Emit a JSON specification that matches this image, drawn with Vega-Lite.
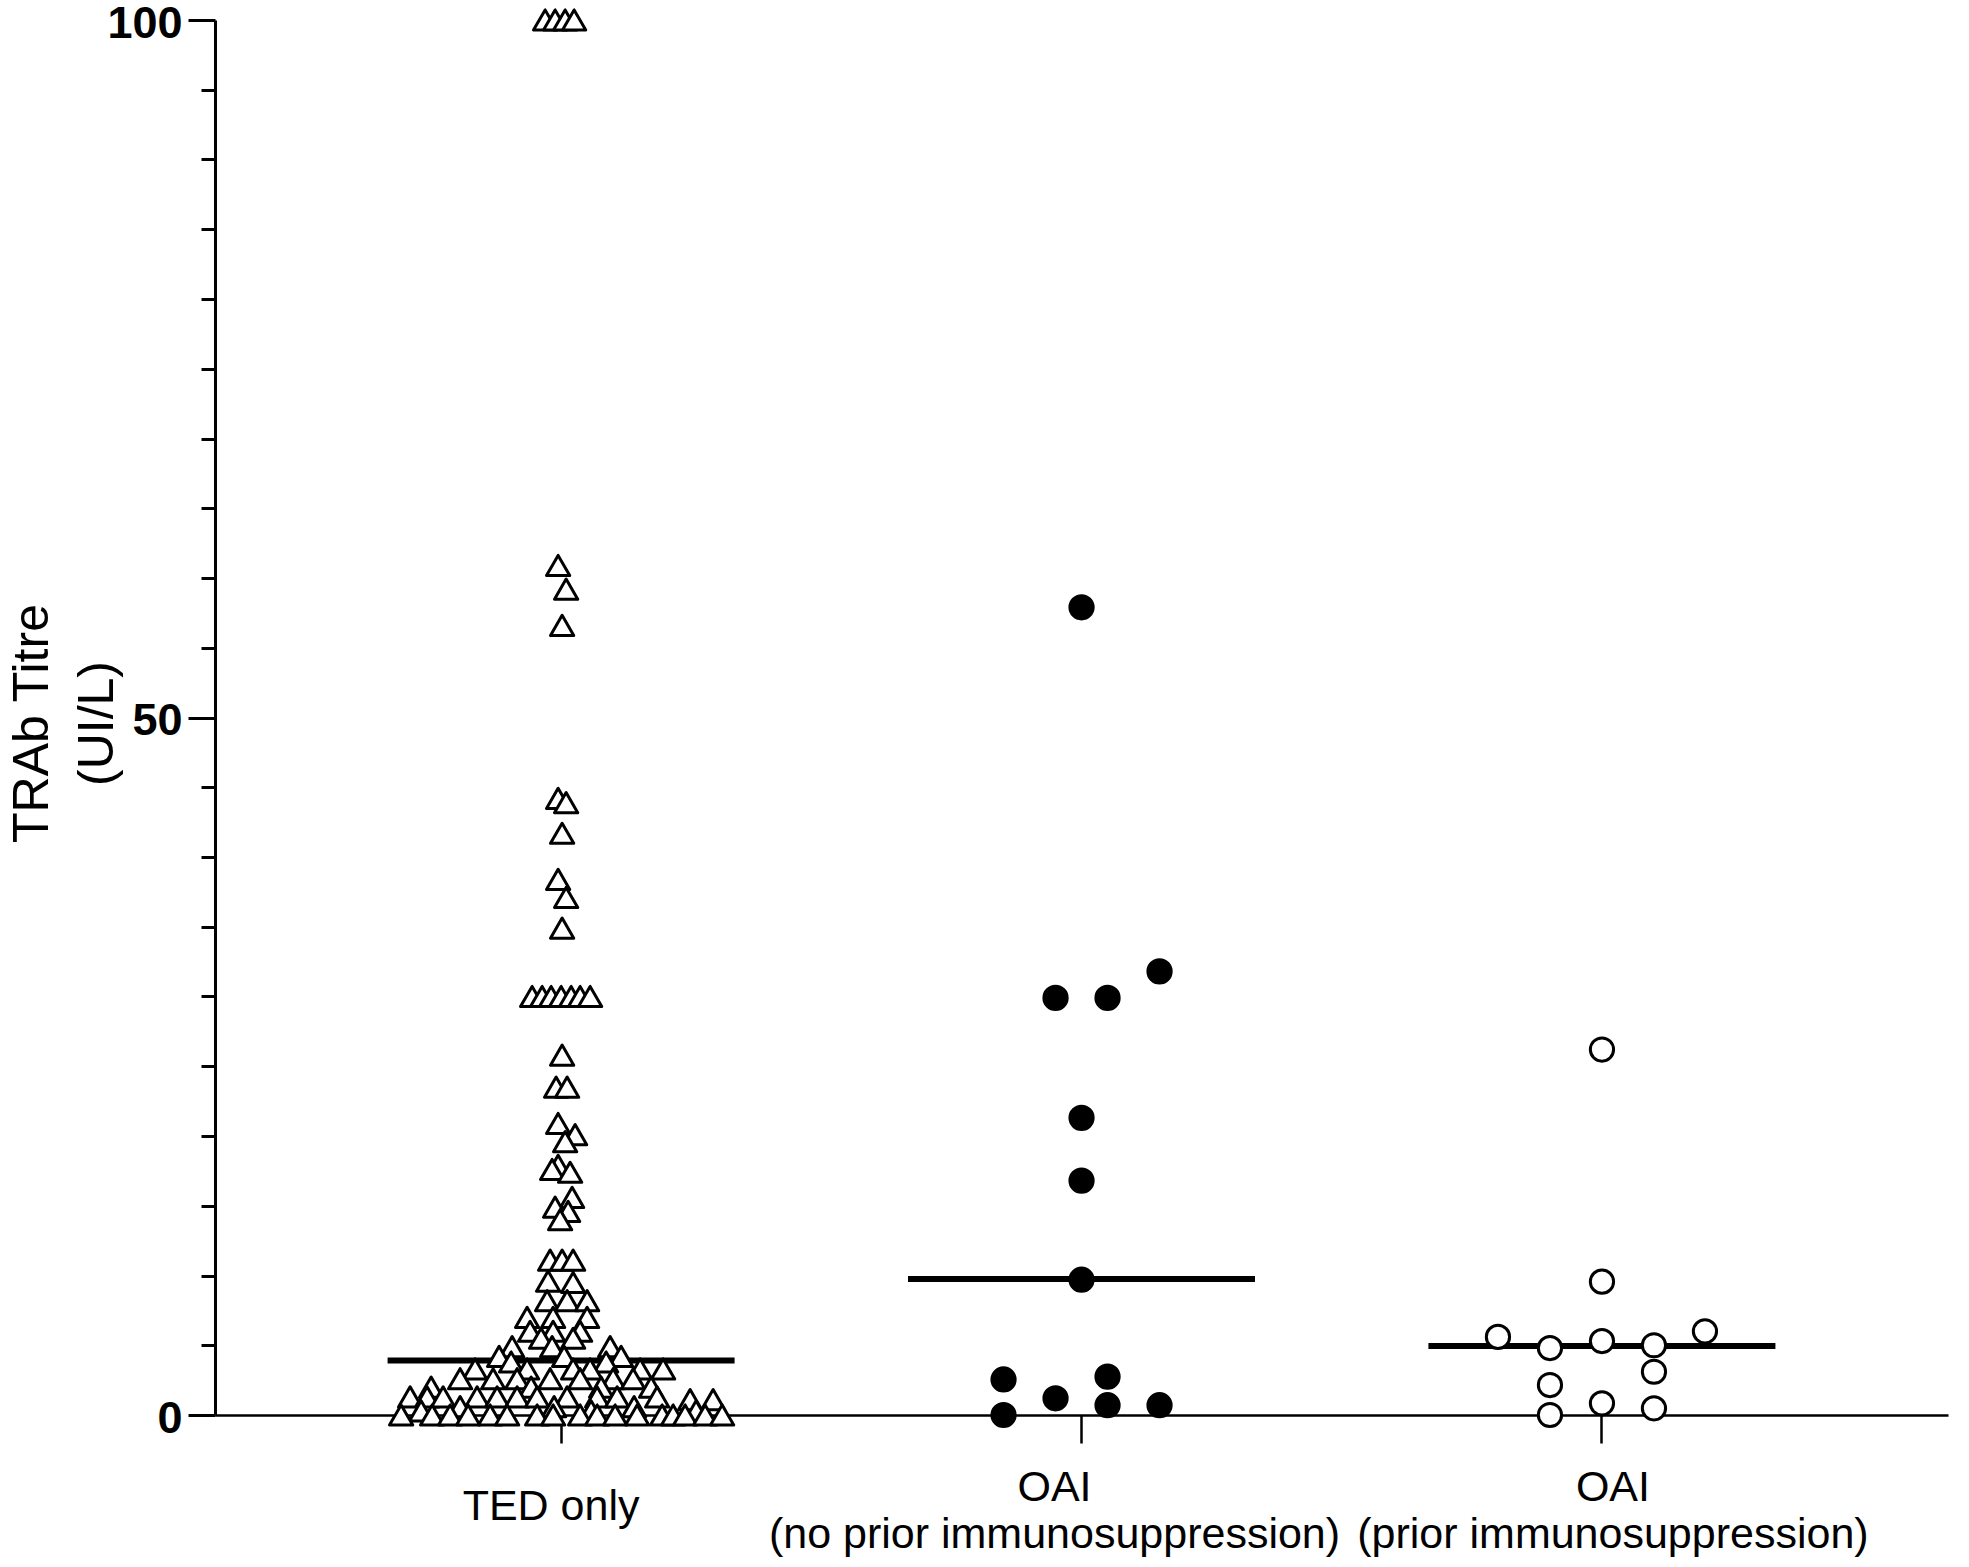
{
  "$schema": "https://vega.github.io/schema/vega-lite/v6.json",
  "width": 1733,
  "height": 1395,
  "autosize": {"type": "none"},
  "padding": {"left": 215, "top": 20, "right": 21, "bottom": 152},
  "background": "white",
  "config": {
    "view": {"stroke": null},
    "font": "Liberation Sans",
    "axis": {"domainColor": "black", "tickColor": "black", "labelColor": "black", "titleColor": "black", "grid": false}
  },
  "layer": [
    {
      "data": {
        "values": [
          {"group": "TED only", "titre": 3.9},
          {"group": "OAI (no prior immunosuppression)", "titre": 9.75},
          {"group": "OAI (prior immunosuppression)", "titre": 4.95}
        ]
      },
      "mark": {"type": "tick", "size": 347, "thickness": 6, "color": "black", "opacity": 1},
      "encoding": {
        "x": {"field": "group", "type": "nominal"},
        "y": {"field": "titre", "type": "quantitative"}
      }
    },
    {
      "data": {
        "values": [
          {"group": "TED only", "titre": 100, "spread": -16},
          {"group": "TED only", "titre": 100, "spread": -6},
          {"group": "TED only", "titre": 100, "spread": 4},
          {"group": "TED only", "titre": 100, "spread": 13},
          {"group": "TED only", "titre": 60.9, "spread": -3},
          {"group": "TED only", "titre": 59.2, "spread": 5},
          {"group": "TED only", "titre": 56.6, "spread": 1},
          {"group": "TED only", "titre": 44.2, "spread": -3},
          {"group": "TED only", "titre": 43.9, "spread": 5},
          {"group": "TED only", "titre": 41.7, "spread": 1},
          {"group": "TED only", "titre": 38.4, "spread": -3},
          {"group": "TED only", "titre": 37.1, "spread": 5},
          {"group": "TED only", "titre": 34.9, "spread": 1},
          {"group": "TED only", "titre": 30, "spread": -29},
          {"group": "TED only", "titre": 30, "spread": -19},
          {"group": "TED only", "titre": 30, "spread": -10},
          {"group": "TED only", "titre": 30, "spread": 0},
          {"group": "TED only", "titre": 30, "spread": 10},
          {"group": "TED only", "titre": 30, "spread": 19},
          {"group": "TED only", "titre": 30, "spread": 29},
          {"group": "TED only", "titre": 25.8, "spread": 1},
          {"group": "TED only", "titre": 23.5, "spread": -5},
          {"group": "TED only", "titre": 23.5, "spread": 6},
          {"group": "TED only", "titre": 20.9, "spread": -3},
          {"group": "TED only", "titre": 20.1, "spread": 14},
          {"group": "TED only", "titre": 19.6, "spread": 4},
          {"group": "TED only", "titre": 17.9, "spread": -3},
          {"group": "TED only", "titre": 17.6, "spread": -9},
          {"group": "TED only", "titre": 17.4, "spread": 9},
          {"group": "TED only", "titre": 15.6, "spread": 11},
          {"group": "TED only", "titre": 14.9, "spread": -6},
          {"group": "TED only", "titre": 14.6, "spread": 7},
          {"group": "TED only", "titre": 14.0, "spread": -1},
          {"group": "TED only", "titre": 11.1, "spread": -11},
          {"group": "TED only", "titre": 11.1, "spread": 1},
          {"group": "TED only", "titre": 11.1, "spread": 12},
          {"group": "TED only", "titre": 9.6, "spread": -13},
          {"group": "TED only", "titre": 9.5, "spread": 12},
          {"group": "TED only", "titre": 8.2, "spread": -14},
          {"group": "TED only", "titre": 8.2, "spread": 6},
          {"group": "TED only", "titre": 8.2, "spread": 26},
          {"group": "TED only", "titre": 7.0, "spread": -34},
          {"group": "TED only", "titre": 7.0, "spread": -8},
          {"group": "TED only", "titre": 7.0, "spread": 26},
          {"group": "TED only", "titre": 6.0, "spread": -31},
          {"group": "TED only", "titre": 6.0, "spread": -8},
          {"group": "TED only", "titre": 6.0, "spread": 19},
          {"group": "TED only", "titre": 5.5, "spread": -20},
          {"group": "TED only", "titre": 5.5, "spread": 12},
          {"group": "TED only", "titre": 4.9, "spread": -49},
          {"group": "TED only", "titre": 4.9, "spread": -9},
          {"group": "TED only", "titre": 4.9, "spread": 49},
          {"group": "TED only", "titre": 4.2, "spread": -62},
          {"group": "TED only", "titre": 4.2, "spread": 3},
          {"group": "TED only", "titre": 4.2, "spread": 60},
          {"group": "TED only", "titre": 3.8, "spread": -50},
          {"group": "TED only", "titre": 3.8, "spread": 45},
          {"group": "TED only", "titre": 3.3, "spread": -86},
          {"group": "TED only", "titre": 3.3, "spread": -34},
          {"group": "TED only", "titre": 3.3, "spread": 12},
          {"group": "TED only", "titre": 3.3, "spread": 29},
          {"group": "TED only", "titre": 3.3, "spread": 79},
          {"group": "TED only", "titre": 3.3, "spread": 102},
          {"group": "TED only", "titre": 2.6, "spread": -101},
          {"group": "TED only", "titre": 2.6, "spread": -68},
          {"group": "TED only", "titre": 2.6, "spread": -44},
          {"group": "TED only", "titre": 2.6, "spread": -11},
          {"group": "TED only", "titre": 2.6, "spread": 19},
          {"group": "TED only", "titre": 2.6, "spread": 52},
          {"group": "TED only", "titre": 2.6, "spread": 72},
          {"group": "TED only", "titre": 2.0, "spread": -130},
          {"group": "TED only", "titre": 2.0, "spread": -30},
          {"group": "TED only", "titre": 2.0, "spread": 40},
          {"group": "TED only", "titre": 2.0, "spread": 90},
          {"group": "TED only", "titre": 1.3, "spread": -151},
          {"group": "TED only", "titre": 1.3, "spread": -134},
          {"group": "TED only", "titre": 1.3, "spread": -118},
          {"group": "TED only", "titre": 1.3, "spread": -84},
          {"group": "TED only", "titre": 1.3, "spread": -64},
          {"group": "TED only", "titre": 1.3, "spread": -44},
          {"group": "TED only", "titre": 1.3, "spread": -24},
          {"group": "TED only", "titre": 1.3, "spread": 6},
          {"group": "TED only", "titre": 1.3, "spread": 36},
          {"group": "TED only", "titre": 1.3, "spread": 56},
          {"group": "TED only", "titre": 1.3, "spread": 96},
          {"group": "TED only", "titre": 1.1, "spread": 129},
          {"group": "TED only", "titre": 1.1, "spread": 152},
          {"group": "TED only", "titre": 0.6, "spread": -101},
          {"group": "TED only", "titre": 0.6, "spread": -7},
          {"group": "TED only", "titre": 0.6, "spread": 73},
          {"group": "TED only", "titre": 0.3, "spread": -140},
          {"group": "TED only", "titre": 0.3, "spread": 30},
          {"group": "TED only", "titre": 0.3, "spread": 135},
          {"group": "TED only", "titre": 0, "spread": -160},
          {"group": "TED only", "titre": 0, "spread": -129},
          {"group": "TED only", "titre": 0, "spread": -111},
          {"group": "TED only", "titre": 0, "spread": -93},
          {"group": "TED only", "titre": 0, "spread": -71},
          {"group": "TED only", "titre": 0, "spread": -54},
          {"group": "TED only", "titre": 0, "spread": -24},
          {"group": "TED only", "titre": 0, "spread": -8},
          {"group": "TED only", "titre": 0, "spread": 19},
          {"group": "TED only", "titre": 0, "spread": 36},
          {"group": "TED only", "titre": 0, "spread": 54},
          {"group": "TED only", "titre": 0, "spread": 76},
          {"group": "TED only", "titre": 0, "spread": 101},
          {"group": "TED only", "titre": 0, "spread": 112},
          {"group": "TED only", "titre": 0, "spread": 124},
          {"group": "TED only", "titre": 0, "spread": 144},
          {"group": "TED only", "titre": 0, "spread": 161},
          {"group": "OAI (no prior immunosuppression)", "titre": 57.9, "spread": 0},
          {"group": "OAI (no prior immunosuppression)", "titre": 31.8, "spread": 78},
          {"group": "OAI (no prior immunosuppression)", "titre": 29.9, "spread": -26},
          {"group": "OAI (no prior immunosuppression)", "titre": 29.9, "spread": 26},
          {"group": "OAI (no prior immunosuppression)", "titre": 21.3, "spread": 0},
          {"group": "OAI (no prior immunosuppression)", "titre": 16.8, "spread": 0},
          {"group": "OAI (no prior immunosuppression)", "titre": 9.7, "spread": 0},
          {"group": "OAI (no prior immunosuppression)", "titre": 2.55, "spread": -78},
          {"group": "OAI (no prior immunosuppression)", "titre": 2.75, "spread": 26},
          {"group": "OAI (no prior immunosuppression)", "titre": 1.2, "spread": -26},
          {"group": "OAI (no prior immunosuppression)", "titre": 0.7, "spread": 26},
          {"group": "OAI (no prior immunosuppression)", "titre": 0.7, "spread": 78},
          {"group": "OAI (no prior immunosuppression)", "titre": 0, "spread": -78},
          {"group": "OAI (prior immunosuppression)", "titre": 26.2, "spread": 0},
          {"group": "OAI (prior immunosuppression)", "titre": 9.56, "spread": 0},
          {"group": "OAI (prior immunosuppression)", "titre": 5.6, "spread": -104},
          {"group": "OAI (prior immunosuppression)", "titre": 6.0, "spread": 103},
          {"group": "OAI (prior immunosuppression)", "titre": 4.8, "spread": -52},
          {"group": "OAI (prior immunosuppression)", "titre": 5.3, "spread": 0},
          {"group": "OAI (prior immunosuppression)", "titre": 5.0, "spread": 52},
          {"group": "OAI (prior immunosuppression)", "titre": 3.1, "spread": 52},
          {"group": "OAI (prior immunosuppression)", "titre": 2.15, "spread": -52},
          {"group": "OAI (prior immunosuppression)", "titre": 0.84, "spread": 0},
          {"group": "OAI (prior immunosuppression)", "titre": 0.48, "spread": 52},
          {"group": "OAI (prior immunosuppression)", "titre": 0, "spread": -52}
        ]
      },
      "mark": {"type": "point", "filled": true, "strokeWidth": 3, "strokeJoin": "round", "opacity": 1, "size": 540},
      "encoding": {
        "x": {"field": "group", "type": "nominal"},
        "xOffset": {"field": "spread", "type": "quantitative", "scale": {"domain": [-200, 200], "range": [60.25, 460.25]}},
        "y": {"field": "titre", "type": "quantitative"},
        "shape": {
          "field": "group", "type": "nominal", "legend": null,
          "scale": {"domain": ["TED only", "OAI (no prior immunosuppression)", "OAI (prior immunosuppression)"], "range": ["triangle-up", "circle", "circle"]}
        },
        "fill": {
          "field": "group", "type": "nominal", "legend": null,
          "scale": {"domain": ["TED only", "OAI (no prior immunosuppression)", "OAI (prior immunosuppression)"], "range": ["white", "black", "white"]}
        },
        "stroke": {"value": "black"}
      }
    }
  ],
  "encoding": {
    "x": {
      "field": "group",
      "type": "nominal",
      "sort": ["TED only", "OAI (no prior immunosuppression)", "OAI (prior immunosuppression)"],
      "scale": {"type": "band", "paddingInner": 0, "paddingOuter": 0.165},
      "axis": {
        "title": null,
        "labelAngle": 0,
        "labelExpr": "indexof(datum.label, ' (') > 0 ? [substring(datum.label, 0, 3), substring(datum.label, 4)] : datum.label",
        "labelFontSize": 43,
        "labelBaseline": "middle",
        "labelLineHeight": 47,
        "labelPadding": {"condition": {"test": "datum.value === 'TED only'", "value": 63}, "value": 44},
        "labelLimit": 2000,
        "labelOverlap": false,
        "labelOffset": {
          "condition": [
            {"test": "datum.value === 'TED only'", "value": -10},
            {"test": "datum.value === 'OAI (no prior immunosuppression)'", "value": -27}
          ],
          "value": 11
        },
        "tickSize": 28,
        "tickWidth": 2.5,
        "domainWidth": 2.5
      }
    },
    "y": {
      "field": "titre",
      "type": "quantitative",
      "scale": {"domain": [0, 100], "nice": false},
      "axis": {
        "values": [0, 5, 10, 15, 20, 25, 30, 35, 40, 45, 50, 55, 60, 65, 70, 75, 80, 85, 90, 95, 100],
        "labelExpr": "datum.value % 50 === 0 ? datum.label : ''",
        "labelFontSize": 45,
        "labelFontWeight": "bold",
        "labelPadding": 6,
        "labelOffset": 3,
        "tickSize": {"condition": {"test": "datum.value % 50 === 0", "value": 27}, "value": 14},
        "tickWidth": 3,
        "domainWidth": 3,
        "title": ["TRAb Titre", "(UI/L)"],
        "titleFontSize": 50,
        "titleFontWeight": "normal",
        "titleLineHeight": 65,
        "titleAngle": 270,
        "titleAlign": "center",
        "titleBaseline": "alphabetic",
        "titleX": -168,
        "titleY": 703
      }
    }
  }
}
